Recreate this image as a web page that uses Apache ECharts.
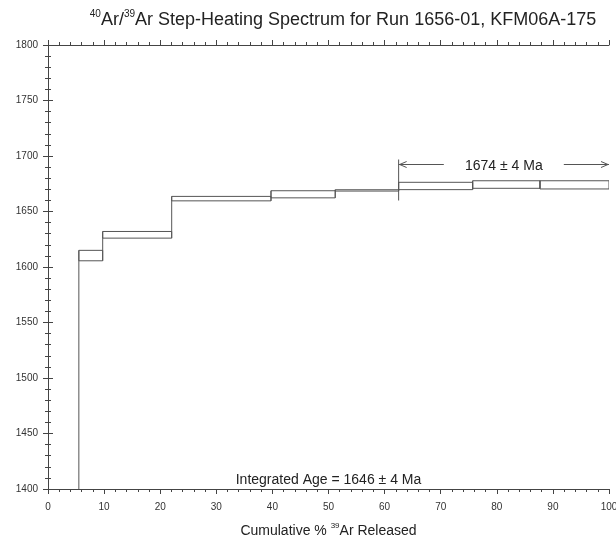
<!DOCTYPE html>
<html><head><meta charset="utf-8">
<script src="https://cdn.jsdelivr.net/npm/echarts@6/dist/echarts.min.js"></script>
<style>html,body{margin:0;padding:0;background:#fff}#c{width:616px;height:536px}</style>
</head><body><div id="c"></div>
<script>
// Step-heating data (cumulative % 39Ar, apparent age Ma, 1-sigma error Ma)
const stepStart = [0, 5.5, 9.75, 22.05, 39.75, 51.2, 62.5, 75.7, 87.7];
const stepEnd   = [5.5, 9.75, 22.05, 39.75, 51.2, 62.5, 75.7, 87.7, 100];
const stepAge   = [1250, 1610.3, 1629, 1661.6, 1665.5, 1669, 1673, 1674.3, 1674];
const stepErr   = [10, 4.7, 3, 2, 3.2, 0.6, 3.3, 3.4, 3.7];
const plateauRange = [62.5, 100];
const plateauAge = 1674, plateauErr = 4;
const integratedAge = 1646, integratedErr = 4;
const xRange = [0, 100], xStep = 10;
const yRange = [1400, 1800], yStep = 50;

const FONT = '"Liberation Sans", Arial, Helvetica, sans-serif';
const LINE = '#555';
const AXIS = '#444';

const stepData = stepStart.map((s, i) => [s, stepEnd[i], stepAge[i], stepErr[i],
  i > 0 ? stepAge[i-1] - stepErr[i-1] : stepAge[i] - stepErr[i],
  i > 0 ? stepAge[i-1] + stepErr[i-1] : stepAge[i] + stepErr[i]]);

const chart = echarts.init(document.getElementById('c'), null, {renderer: 'canvas'});

const axisCommon = {
  type: 'value',
  axisLine: {show: true, lineStyle: {color: AXIS, width: 1}},
  splitLine: {show: false},
  minorTick: {show: true, splitNumber: 5, length: 3, lineStyle: {color: AXIS}},
  axisTick: {show: true, inside: false, length: 5, lineStyle: {color: AXIS}},
};
const plain = v => String(v);

chart.setOption({
  animation: false,
  backgroundColor: '#fff',
  title: {
    text: '{sup|40}{n|Ar/}{sup|39}{n|Ar Step-Heating Spectrum for Run 1656-01, KFM06A-175}',
    left: 338, top: 4, textAlign: 'center',
    textStyle: {
      fontWeight: 'normal',
      rich: {
        n: {fontSize: 18, fontWeight: 'normal', fontFamily: FONT, color: '#222', lineHeight: 22},
        sup: {fontSize: 10, fontWeight: 'normal', fontFamily: FONT, color: '#222', verticalAlign: 'top', lineHeight: 22, padding: [0, 0, 8, 0]}
      }
    }
  },
  grid: {left: 48, right: 7, top: 45, bottom: 47, containLabel: false, outerBoundsMode: 'none'},
  xAxis: [
    Object.assign({}, axisCommon, {
      position: 'bottom', min: xRange[0], max: xRange[1], interval: xStep,
      axisLabel: {fontSize: 10, fontFamily: FONT, color: '#333', margin: 13, formatter: plain},
      name: '{n|Cumulative % }{sup|39}{n|Ar Released}',
      nameLocation: 'middle', nameGap: 33,
      nameTextStyle: {
        rich: {
          n: {fontSize: 14, fontFamily: FONT, color: '#222', lineHeight: 18},
          sup: {fontSize: 8, fontFamily: FONT, color: '#222', verticalAlign: 'top', lineHeight: 18, padding: [0, 0, 2, 0]}
        }
      }
    }),
    Object.assign({}, axisCommon, {
      position: 'top', min: xRange[0], max: xRange[1], interval: xStep,
      axisLabel: {show: false}
    })
  ],
  yAxis: [
    Object.assign({}, axisCommon, {
      position: 'left', min: yRange[0], max: yRange[1], interval: yStep,
      axisLabel: {fontSize: 10, fontFamily: FONT, color: '#333', margin: 10, formatter: plain}
    }),
    Object.assign({}, axisCommon, {
      position: 'right', min: yRange[0], max: yRange[1], interval: yStep,
      axisLabel: {show: false}
    })
  ],
  graphic: [],
  series: [
    {
      type: 'custom', clip: true, xAxisIndex: 0, yAxisIndex: 0,
      data: stepData,
      renderItem: function (params, api) {
        const s = api.value(0), e = api.value(1), a = api.value(2), er = api.value(3);
        const pb = api.value(4), pt = api.value(5);
        const tl = api.coord([s, a + er]);
        const br = api.coord([e, a - er]);
        const children = [{
          type: 'rect',
          shape: {x: tl[0], y: tl[1], width: br[0] - tl[0], height: br[1] - tl[1]},
          style: {fill: 'none', stroke: LINE, lineWidth: 1}
        }];
        if (params.dataIndex > 0) {
          const lo = Math.min(a - er, pb), hi = Math.max(a + er, pt);
          const p1 = api.coord([s, lo]), p2 = api.coord([s, hi]);
          children.push({type: 'line', shape: {x1: p1[0], y1: p1[1], x2: p2[0], y2: p2[1]},
            style: {stroke: LINE, lineWidth: 1}});
        }
        return {type: 'group', children: children};
      }
    },
    {
      type: 'custom', clip: false, xAxisIndex: 0, yAxisIndex: 0,
      data: [[plateauRange[0], plateauRange[1], plateauAge, plateauErr]],
      renderItem: function (params, api) {
        const x0 = api.value(0), x1 = api.value(1);
        let top = -Infinity;
        for (let i = 0; i < stepStart.length; i++) {
          if (stepStart[i] >= x0 - 1e-6 && stepEnd[i] <= x1 + 1e-6) top = Math.max(top, stepAge[i] + stepErr[i]);
        }
        const pTop = api.coord([x0, top]);
        const y = Math.round(pTop[1] - 17) + 0.5;
        const pa = api.coord([x0, top]), pb = api.coord([x1, top]);
        const xa = pa[0], xb = pb[0], xm = (xa + xb) / 2;
        const gap = 60;
        const st = {stroke: LINE, lineWidth: 1, fill: 'none'};
        return {type: 'group', children: [
          {type: 'line', shape: {x1: xa, y1: y - 5, x2: xa, y2: y + 36}, style: st},
          {type: 'line', shape: {x1: xa, y1: y, x2: xm - gap, y2: y}, style: st},
          {type: 'polyline', shape: {points: [[xa + 8, y - 3], [xa + 1, y], [xa + 8, y + 3]]}, style: st},
          {type: 'line', shape: {x1: xm + gap, y1: y, x2: xb, y2: y}, style: st},
          {type: 'polyline', shape: {points: [[xb - 8, y - 3], [xb - 1, y], [xb - 8, y + 3]]}, style: st},
          {type: 'text', x: xm, y: y + 2, style: {
            text: api.value(2) + ' \u00b1 ' + api.value(3) + ' Ma',
            fontSize: 14, fontFamily: FONT, fill: '#222', align: 'center', verticalAlign: 'middle'}}
        ]};
      }
    }
  ]
});

const pc = chart.convertToPixel({xAxisIndex: 0, yAxisIndex: 0}, [(xRange[0] + xRange[1]) / 2, yRange[0]]);
chart.setOption({graphic: [{
  type: 'text', x: pc[0], y: pc[1] - 9,
  style: {text: 'Integrated Age = ' + integratedAge + ' \u00b1 ' + integratedErr + ' Ma',
    fontSize: 14, fontFamily: FONT, fill: '#222', align: 'center', verticalAlign: 'middle'}
}]});
</script></body></html>
